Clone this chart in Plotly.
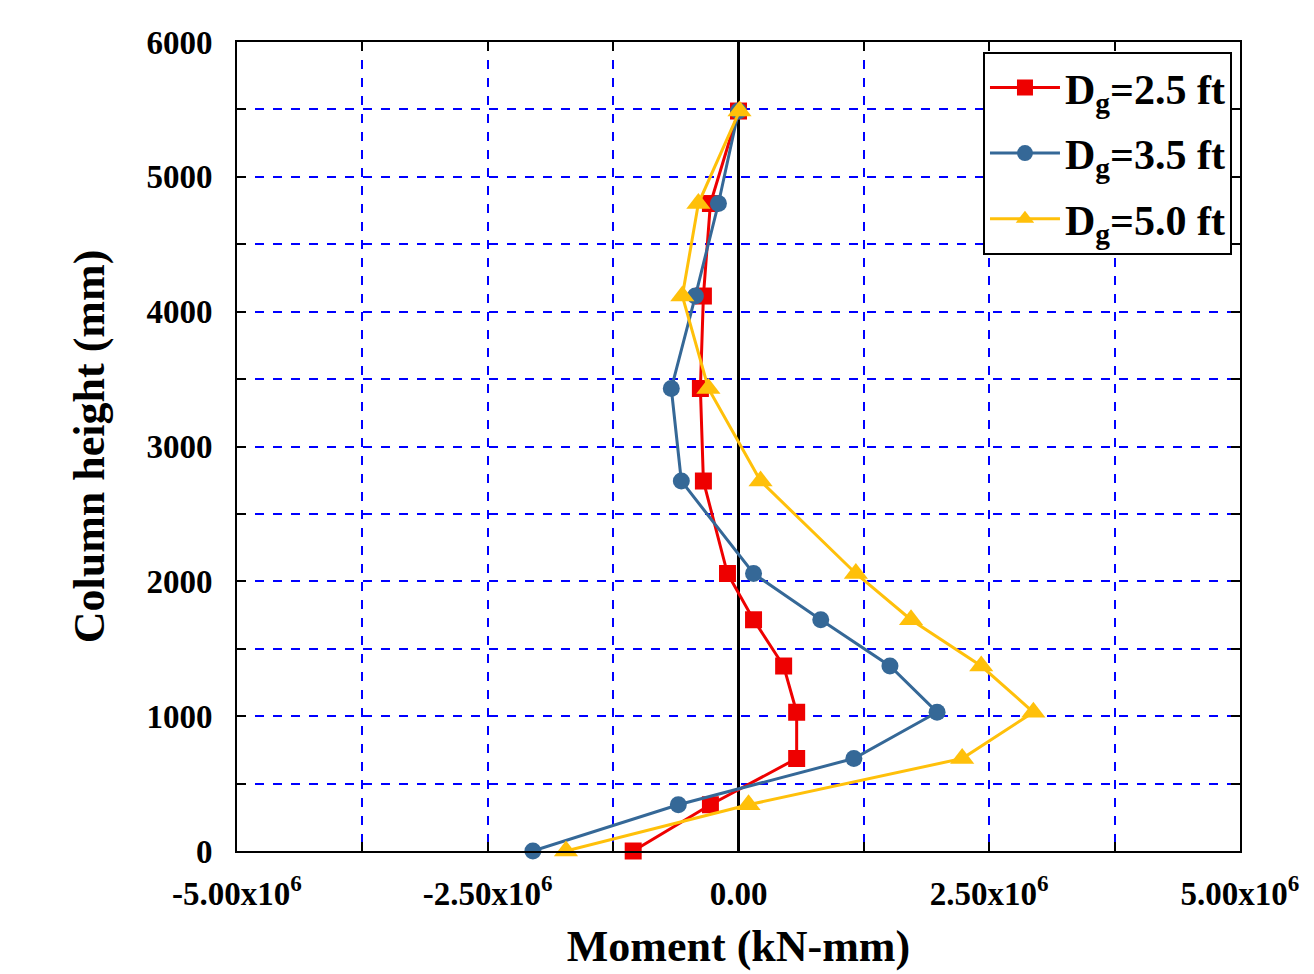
import plotly.graph_objects as go

heights = [0, 343, 686, 1029, 1372, 1715, 2058, 2744, 3430, 4116, 4802, 5488]
m_25 = [-1.05e6, -0.28e6, 0.58e6, 0.58e6, 0.45e6, 0.15e6, -0.11e6, -0.35e6, -0.38e6, -0.35e6, -0.28e6, 0.0]
m_35 = [-2.05e6, -0.60e6, 1.15e6, 1.98e6, 1.51e6, 0.82e6, 0.15e6, -0.57e6, -0.67e6, -0.43e6, -0.20e6, 0.0]
m_50 = [-1.72e6, 0.10e6, 2.23e6, 2.94e6, 2.42e6, 1.72e6, 1.17e6, 0.22e6, -0.30e6, -0.56e6, -0.40e6, 0.01e6]

series_names = ["D<sub>g</sub>=2.5 ft", "D<sub>g</sub>=3.5 ft", "D<sub>g</sub>=5.0 ft"]
colors = ["#EE0000", "#356897", "#FFC00A"]
symbols = ["square", "circle", "triangle-up"]
msizes = [17, 17, 21]

x_tickvals = [-5e6, -3.75e6, -2.5e6, -1.25e6, 0, 1.25e6, 2.5e6, 3.75e6, 5e6]
x_ticktext = ["-5.00x10<sup>6</sup>", "", "-2.50x10<sup>6</sup>", "", "0.00", "", "2.50x10<sup>6</sup>", "", "5.00x10<sup>6</sup>"]
y_tickvals = list(range(0, 6001, 500))
y_ticktext = [str(v) if v % 1000 == 0 else "" for v in y_tickvals]

fig = go.Figure()
for i, (vals, name, c, s, ms) in enumerate(zip([m_25, m_35, m_50], series_names, colors, symbols, msizes)):
    fig.add_trace(go.Scatter(
        x=vals, y=heights, mode="lines+markers", name=name,
        legendgroup=f"g{i}",
        line=dict(color=c, width=3),
        marker=dict(symbol=s, size=ms, color=c),
        cliponaxis=False,
    ))

font_family = "Liberation Serif, Times New Roman, serif"
fig.update_layout(
    width=1314, height=974,
    margin=dict(l=229, r=82, t=34, b=131),
    paper_bgcolor="white", plot_bgcolor="white",
    font=dict(family=font_family, color="black"),
    showlegend=True,
    legend=dict(
        x=0.992, y=0.988, xanchor="right", yanchor="top",
        bgcolor="white", bordercolor="black", borderwidth=2,
        font=dict(size=42, family=font_family, color="black", weight="bold"),
        tracegroupgap=8, itemwidth=70,
    ),
    xaxis=dict(
        range=[-5e6, 5e6], tickvals=x_tickvals, ticktext=x_ticktext,
        showgrid=True, gridcolor="#0000FF", griddash="dash", gridwidth=1.5,
        showline=True, linecolor="black", linewidth=2, mirror="allticks",
        ticks="inside", ticklen=9, tickwidth=2, tickcolor="black",
        zeroline=True, zerolinecolor="black", zerolinewidth=3,
        tickfont=dict(size=33, family=font_family, weight="bold"),
        ticklabelstandoff=12,
        title=dict(text="Moment (kN-mm)", font=dict(size=44, family=font_family, weight="bold"), standoff=20),
    ),
    yaxis=dict(
        range=[0, 6000], tickvals=y_tickvals, ticktext=y_ticktext,
        showgrid=True, gridcolor="#0000FF", griddash="dash", gridwidth=1.5,
        showline=True, linecolor="black", linewidth=2, mirror="allticks",
        ticks="inside", ticklen=9, tickwidth=2, tickcolor="black",
        zeroline=False,
        tickfont=dict(size=33, family=font_family, weight="bold"),
        ticklabelstandoff=16,
        title=dict(text="Column height (mm)", font=dict(size=44, family=font_family, weight="bold"), standoff=28),
    ),
)

fig.write_html("out.html")
